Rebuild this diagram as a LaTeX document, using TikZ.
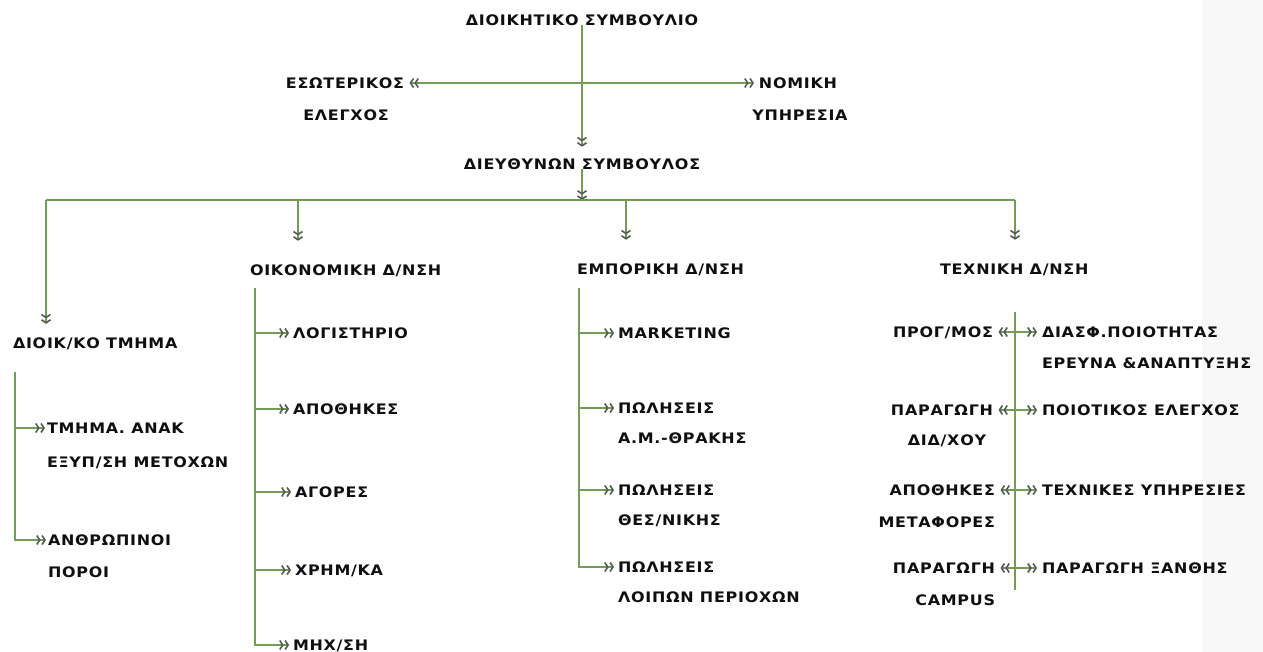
\documentclass[tikz,border=0pt]{standalone}
\usepackage{fontspec}
\setmainfont{DejaVu Sans}
\newfontfamily\orgfont[LetterSpace=5,FakeStretch=1.1]{DejaVu Sans Bold}
\usetikzlibrary{arrows.meta}

\definecolor{linegreen}{RGB}{112,158,84}
\definecolor{tipgray}{RGB}{85,90,85}
\definecolor{inkblack}{RGB}{15,15,15}
\definecolor{edgegray}{RGB}{248,248,248}

\tikzset{
  lbl/.style={inner sep=0pt, outer sep=0pt, text=inkblack,
    font=\orgfont\fontsize{14.5}{16}\selectfont, text height=10.5pt, text depth=0pt},
  link/.style={draw=linegreen, line width=1.1pt},
  chev/.tip={Straight Barb[length=3pt, width=9pt, line width=1.6pt, color=tipgray]},
  arr/.style={link, -{chev[sep=0.5pt]chev}, shorten >=4pt},
  both/.style={link, {chev[sep=0.5pt]chev}-{chev[sep=0.5pt]chev}, shorten >=5pt, shorten <=5pt}
}

\begin{document}
\begin{tikzpicture}[x=1pt,y=-1pt]
  \useasboundingbox (0,0) rectangle (1263,652);
  \fill[edgegray] (1202,0) rectangle (1263,652);

  % Board and staff units
  \node[lbl] (board) at (582,20) {ΔΙΟΙΚΗΤΙΚΟ ΣΥΜΒΟΥΛΙΟ};
  \node[lbl] (audit) at (345,83) {ΕΣΩΤΕΡΙΚΟΣ};
  \node[lbl] (audit2) at (346,115) {ΕΛΕΓΧΟΣ};
  \node[lbl] (legal) at (798,83) {ΝΟΜΙΚΗ};
  \node[lbl] (legal2) at (800,115) {ΥΠΗΡΕΣΙΑ};
  \node[lbl] (ceo) at (582,164) {ΔΙΕΥΘΥΝΩΝ ΣΥΜΒΟΥΛΟΣ};

  \draw[both] (audit.east) -- (legal.west);
  \draw[arr, shorten >=12pt] (board.south) -- (ceo.north);

  % Bus
  \coordinate (busL) at (46,200);
  \coordinate (busR) at (1015,200);
  \coordinate (dEcon) at (298,200);
  \coordinate (dComm) at (626,200);
  \draw[arr, shorten >=0pt] (ceo.south) -- (ceo.south |- busL);
  \draw[link] (busL) -- (busR);

  % Departments
  \node[lbl, anchor=west] (admin) at (13,343) {ΔΙΟΙΚ/ΚΟ ΤΜΗΜΑ};
  \node[lbl, anchor=west] (econ) at (250,270) {ΟΙΚΟΝΟΜΙΚΗ Δ/ΝΣΗ};
  \node[lbl, anchor=west] (comm) at (577,269) {ΕΜΠΟΡΙΚΗ Δ/ΝΣΗ};
  \node[lbl, anchor=west] (tech) at (940,269) {ΤΕΧΝΙΚΗ Δ/ΝΣΗ};

  \draw[arr, shorten >=14pt] (busL) -- (busL |- admin.north);
  \draw[arr, shorten >=24pt] (dEcon) -- (dEcon |- econ.north);
  \draw[arr, shorten >=24pt] (dComm) -- (dComm |- comm.north);
  \draw[arr, shorten >=24pt] (busR) -- (busR |- tech.north);

  % Administration
  \node[lbl, anchor=west] (adm1) at (47,428) {ΤΜΗΜΑ. ΑΝΑΚ};
  \node[lbl, anchor=west] (adm1b) at (47,462) {ΕΞΥΠ/ΣΗ ΜΕΤΟΧΩΝ};
  \node[lbl, anchor=west] (adm2) at (48,540) {ΑΝΘΡΩΠΙΝΟΙ};
  \node[lbl, anchor=west] (adm2b) at (48,572) {ΠΟΡΟΙ};
  \coordinate (admTop) at (15,372);
  \draw[arr, shorten >=2pt] (admTop) |- (adm2.west);
  \draw[arr, shorten >=2pt] (admTop |- adm1.west) -- (adm1.west);

  % Finance
  \node[lbl, anchor=west] (eco1) at (293,333) {ΛΟΓΙΣΤΗΡΙΟ};
  \node[lbl, anchor=west] (eco2) at (293,409) {ΑΠΟΘΗΚΕΣ};
  \node[lbl, anchor=west] (eco3) at (295,492) {ΑΓΟΡΕΣ};
  \node[lbl, anchor=west] (eco4) at (295,570) {ΧΡΗΜ/ΚΑ};
  \node[lbl, anchor=west] (eco5) at (293,645) {ΜΗΧ/ΣΗ};
  \coordinate (ecoTop) at (255,288);
  \draw[arr] (ecoTop) |- (eco5.west);
  \foreach \n in {eco1,eco2,eco3,eco4}
    \draw[arr] (ecoTop |- \n.west) -- (\n.west);

  % Commercial
  \node[lbl, anchor=west] (com1) at (618,333) {MARKETING};
  \node[lbl, anchor=west] (com2) at (618,408) {ΠΩΛΗΣΕΙΣ};
  \node[lbl, anchor=west] (com2b) at (618,438) {Α.Μ.-ΘΡΑΚΗΣ};
  \node[lbl, anchor=west] (com3) at (618,490) {ΠΩΛΗΣΕΙΣ};
  \node[lbl, anchor=west] (com3b) at (618,520) {ΘΕΣ/ΝΙΚΗΣ};
  \node[lbl, anchor=west] (com4) at (618,567) {ΠΩΛΗΣΕΙΣ};
  \node[lbl, anchor=west] (com4b) at (618,597) {ΛΟΙΠΩΝ ΠΕΡΙΟΧΩΝ};
  \coordinate (comTop) at (579,288);
  \draw[arr] (comTop) |- (com4.west);
  \foreach \n in {com1,com2,com3}
    \draw[arr] (comTop |- \n.west) -- (\n.west);

  % Technical
  \node[lbl, anchor=east] (tl1) at (993,332) {ΠΡΟΓ/ΜΟΣ};
  \node[lbl, anchor=east] (tl2) at (993,410) {ΠΑΡΑΓΩΓΗ};
  \node[lbl] (tl2b) at (947,440) {ΔΙΔ/ΧΟΥ};
  \node[lbl, anchor=east] (tl3) at (995,490) {ΑΠΟΘΗΚΕΣ};
  \node[lbl, anchor=east] (tl3b) at (995,522) {ΜΕΤΑΦΟΡΕΣ};
  \node[lbl, anchor=east] (tl4) at (995,568) {ΠΑΡΑΓΩΓΗ};
  \node[lbl, anchor=east] (tl4b) at (995,600) {CAMPUS};
  \node[lbl, anchor=west] (tr1) at (1042,332) {ΔΙΑΣΦ.ΠΟΙΟΤΗΤΑΣ};
  \node[lbl, anchor=west] (tr1b) at (1042,363) {ΕΡΕΥΝΑ \&ΑΝΑΠΤΥΞΗΣ};
  \node[lbl, anchor=west] (tr2) at (1042,410) {ΠΟΙΟΤΙΚΟΣ ΕΛΕΓΧΟΣ};
  \node[lbl, anchor=west] (tr3) at (1042,490) {ΤΕΧΝΙΚΕΣ ΥΠΗΡΕΣΙΕΣ};
  \node[lbl, anchor=west] (tr4) at (1042,568) {ΠΑΡΑΓΩΓΗ ΞΑΝΘΗΣ};
  \coordinate (tecTop) at (1015,312);
  \coordinate (tecBot) at (1015,590);
  \draw[link] (tecTop) -- (tecBot);
  \foreach \i in {1,2,3,4}
    \draw[both] (tl\i.east) -- (tr\i.west);

\end{tikzpicture}
\end{document}
